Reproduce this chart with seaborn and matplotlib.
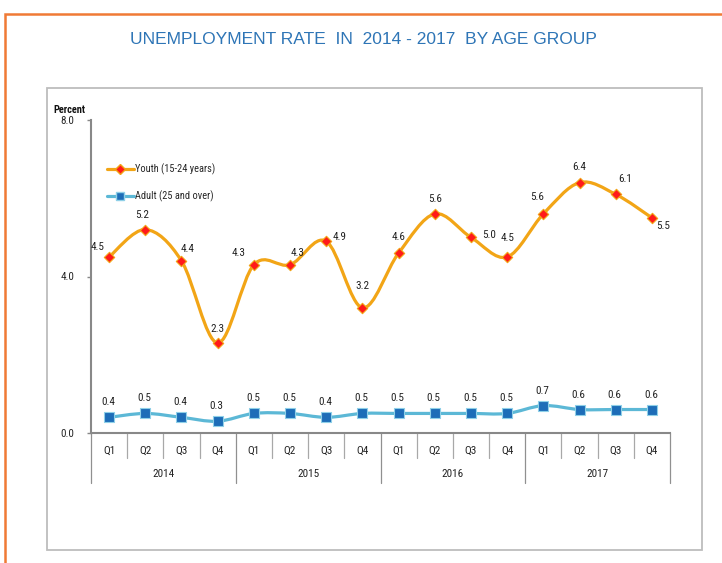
import numpy as np
import pandas as pd
import matplotlib
matplotlib.use("Agg")
import matplotlib.pyplot as plt
import seaborn as sns
from matplotlib import font_manager
from matplotlib.path import Path
from matplotlib.patches import PathPatch, Rectangle
from matplotlib.lines import Line2D
import matplotlib.transforms as mtransforms

# Data
years = ["2014", "2015", "2016", "2017"]
quarters = ["Q1", "Q2", "Q3", "Q4"]
youth = [4.5, 5.2, 4.4, 2.3, 4.3, 4.3, 4.9, 3.2, 4.6, 5.6, 5.0, 4.5, 5.6, 6.4, 6.1, 5.5]
adult = [0.4, 0.5, 0.4, 0.3, 0.5, 0.5, 0.4, 0.5, 0.5, 0.5, 0.5, 0.5, 0.7, 0.6, 0.6, 0.6]
youth_name = "Youth (15-24 years)"
adult_name = "Adult (25 and over)"
y_ticks = [0.0, 4.0, 8.0]

# label offsets in pixels (style only)
youth_off = [(-12, 10), (-3, 15), (6, 12), (0, 14), (-15, 12), (8, 12), (13, 4), (0, 22),
             (0, 16), (0, 15), (18, 2), (0, 19), (-6, 17), (0, 16), (9, 15), (11, -8)]
adult_off = [(-1, 15)] * len(adult)

sns.set_style("white")

# pick a narrow font close to Calibri if one is installed
installed = {f.name for f in font_manager.fontManager.ttflist}
narrow = None
for cand in ["Liberation Sans Narrow", "Roboto Condensed", "Open Sans Condensed"]:
    if cand in installed:
        narrow = cand
        break
if narrow:
    plt.rcParams["font.family"] = [narrow, "DejaVu Sans"]
    fs, lfs = 8, 7.5
else:
    plt.rcParams["font.family"] = ["Liberation Sans", "DejaVu Sans"]
    fs, lfs = 7, 6.8

n = len(youth)
df = pd.DataFrame({
    "idx": list(range(n)) * 2,
    "rate": youth + adult,
    "group": [youth_name] * n + [adult_name] * n,
})

fig = plt.figure(figsize=(7.22, 5.63), dpi=100)
ax = fig.add_axes([91 / 722, 1 - 433 / 563, (670 - 91) / 722, (433 - 120) / 563])


def smooth_path(xs, ys):
    # Excel-like smoothed line: Catmull-Rom as cubic Bezier segments
    pts = np.column_stack([xs, ys]).astype(float)
    ext = np.vstack([pts[0], pts, pts[-1]])
    verts = [pts[0]]
    codes = [Path.MOVETO]
    for i in range(len(pts) - 1):
        p0, p1, p2, p3 = ext[i], ext[i + 1], ext[i + 2], ext[i + 3]
        c1 = p1 + (p2 - p0) / 6
        c2 = p2 - (p3 - p1) / 6
        verts += [c1, c2, p2]
        codes += [Path.CURVE4] * 3
    return Path(verts, codes)


youth_line = "#F2A516"
adult_line = "#5CB8D6"
youth_mk = "#FF1A1A"
adult_mk = "#1D6DB8"

x = np.arange(n)
ax.add_patch(PathPatch(smooth_path(x, youth), fill=False, edgecolor=youth_line, lw=2.3, zorder=2))
ax.add_patch(PathPatch(smooth_path(x, adult), fill=False, edgecolor=adult_line, lw=2.3, zorder=2))

sns.scatterplot(data=df[df.group == youth_name], x="idx", y="rate", marker="D", s=28,
                color=youth_mk, edgecolor=youth_line, linewidth=0.8, ax=ax, zorder=3, legend=False)
sns.scatterplot(data=df[df.group == adult_name], x="idx", y="rate", marker="s", s=50,
                color=adult_mk, edgecolor="#8FD0E8", linewidth=0.8, ax=ax, zorder=3, legend=False)

lab_kw = dict(textcoords="offset pixels", ha="center", va="center", fontsize=fs, color="#222222")
for i, v in enumerate(youth):
    ax.annotate(f"{v:.1f}", (i, v), xytext=youth_off[i], **lab_kw)
for i, v in enumerate(adult):
    ax.annotate(f"{v:.1f}", (i, v), xytext=adult_off[i], **lab_kw)

ax.set_xlim(-0.5, n - 0.5)
ax.set_ylim(0, 8)
ax.set_yticks(y_ticks)
ax.set_yticklabels([f"{t:.1f}" for t in y_ticks], fontsize=fs)
ax.tick_params(axis="y", which="major", direction="out", length=3, width=1, color="#888888",
               left=True, pad=9)
ax.set_xticks([])
ax.set_xlabel("")
ax.set_ylabel("")
for s in ["top", "right"]:
    ax.spines[s].set_visible(False)
for s in ["left", "bottom"]:
    ax.spines[s].set_color("#888888")
    ax.spines[s].set_linewidth(1.5)

# category axis: quarter labels, year labels and separators
trans = mtransforms.blended_transform_factory(ax.transData, ax.transAxes)
px = 1 / (433 - 120)
for k in range(n + 1):
    long_tick = k % 4 == 0
    ax.plot([k - 0.5, k - 0.5], [0, -(50 if long_tick else 25) * px], transform=trans,
            color="#A8A8A8" if not long_tick else "#909090", lw=0.9, clip_on=False)
for k in range(n):
    ax.text(k, -18 * px, quarters[k % 4], transform=trans, ha="center", va="center",
            fontsize=fs, color="#222222")
for j, yr in enumerate(years):
    ax.text(4 * j + 1.5, -41 * px, yr, transform=trans, ha="center", va="center",
            fontsize=fs, color="#222222")

fig.text(53 / 722, 1 - 110 / 563, "Percent", ha="left", va="center", fontsize=lfs,
         fontweight="bold", color="#111111")

handles = [
    Line2D([], [], color=youth_line, lw=2.3, marker="D", markersize=5,
           markerfacecolor=youth_mk, markeredgecolor=youth_line),
    Line2D([], [], color=adult_line, lw=2.3, marker="s", markersize=6,
           markerfacecolor=adult_mk, markeredgecolor="#8FD0E8"),
]
ax.legend(handles, [youth_name, adult_name], loc="upper left", bbox_to_anchor=(0.02, 0.875),
          frameon=False, fontsize=lfs, handlelength=2.6, handletextpad=0.1, labelspacing=1.5,
          borderaxespad=0)

fig.text(363 / 722, 1 - 40 / 563, "UNEMPLOYMENT RATE  IN  2014 - 2017  BY AGE GROUP",
         ha="center", va="center", fontsize=12.5, color="#2E75B6",
         family=["Liberation Sans", "DejaVu Sans"])

# frames
fig.add_artist(Rectangle((47 / 722, 1 - 550 / 563), (702 - 47) / 722, (550 - 88) / 563,
                         transform=fig.transFigure, fill=False, edgecolor="#BDBDBD", lw=1.3))
fig.add_artist(Rectangle((5 / 722, -0.1), 1.2, 1.1 - 14 / 563,
                         transform=fig.transFigure, fill=False, edgecolor="#F07A35", lw=1.8))

fig.savefig("out.png", dpi=100)
